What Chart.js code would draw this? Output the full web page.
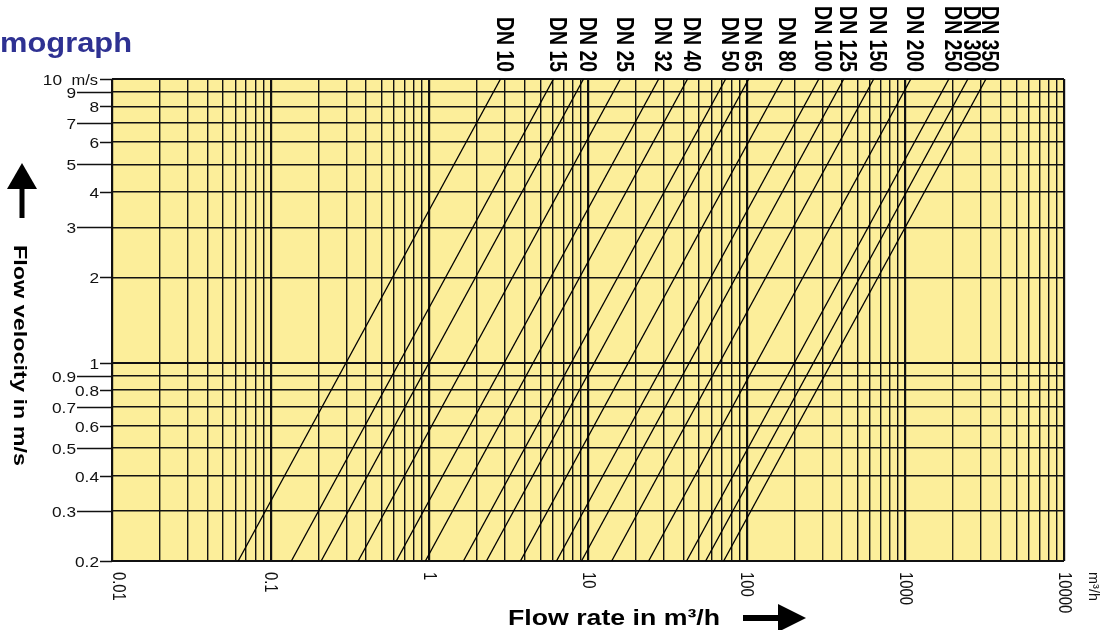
<!DOCTYPE html>
<html>
<head>
<meta charset="utf-8">
<script src="https://cdn.jsdelivr.net/npm/chart.js@4.4.1/dist/chart.umd.min.js"></script>
<style>
  html, body { margin: 0; padding: 0; background: #ffffff; }
  #wrap { width: 1104px; height: 630px; }
</style>
</head>
<body>
<div id="wrap"><canvas id="c" width="1104" height="630"></canvas></div>
<script>
// ---- data ----
const dnLabels = ['DN 10','DN 15','DN 20','DN 25','DN 32','DN 40','DN 50','DN 65','DN 80','DN 100','DN 125','DN 150','DN 200','DN 250','DN 300','DN 350'];
// flow rate (m³/h) where each DN line meets the top edge (10 m/s)
const flowAtTop = [2.81, 6.06, 9.37, 16.0, 27.9, 42.4, 73.7, 103, 169, 285, 409, 632, 1083, 1881, 2479, 3221];
// flow rate (m³/h) where each DN line meets the bottom edge (0.2 m/s)
const flowAtBottom = [0.0624, 0.135, 0.208, 0.356, 0.619, 0.944, 1.64, 2.29, 3.75, 6.33, 9.10, 14.1, 24.1, 41.8, 55.1, 71.6];
const velocityBottom = 0.2;
const velocityTop = 10;

const xDecades = [0.01, 0.1, 1, 10, 100, 1000];
const xMultipliers = [1, 2, 3, 4, 5, 6, 7, 8, 9];
const xMaxTick = 10000;
const xTickLabels = ['0.01', '0.1', '1', '10', '100', '1000', '10000'];
const xTickLabelValues = [0.01, 0.1, 1, 10, 100, 1000, 10000];

const yTickValues = [0.2, 0.3, 0.4, 0.5, 0.6, 0.7, 0.8, 0.9, 1, 2, 3, 4, 5, 6, 7, 8, 9, 10];
const yTickLabels = ['0.2', '0.3', '0.4', '0.5', '0.6', '0.7', '0.8', '0.9', '1', '2', '3', '4', '5', '6', '7', '8', '9', '10'];
const yLongTicks = [0.3, 0.5, 0.7, 0.9, 3, 5, 7, 9];

// ---- build grid tick list ----
const xGridValues = [];
xDecades.forEach(d => xMultipliers.forEach(m => xGridValues.push(parseFloat((d * m).toPrecision(6)))));
xGridValues.push(xMaxTick);

const isDecade = v => Math.abs(Math.log10(v) - Math.round(Math.log10(v))) < 1e-9;

const datasets = dnLabels.map((lab, i) => ({
  label: lab,
  data: [{ x: flowAtBottom[i], y: velocityBottom }, { x: flowAtTop[i], y: velocityTop }],
  showLine: true,
  borderColor: '#000',
  borderWidth: 1.3,
  pointRadius: 0,
  fill: false
}));

const FONT = '"Liberation Sans", Arial, Helvetica, sans-serif';

function txt(ctx, s, x, y, o) {
  ctx.save();
  ctx.translate(x, y);
  ctx.rotate(o.rot || 0);
  ctx.font = o.font;
  const w = ctx.measureText(s).width;
  const sx = o.len ? o.len / w : (o.sx || 1);
  ctx.scale(sx, o.perp || 1);
  ctx.textAlign = o.align || 'left';
  ctx.textBaseline = o.baseline || 'alphabetic';
  ctx.fillStyle = o.color || '#000';
  ctx.fillText(s, 0, 0);
  ctx.restore();
}

const decorPlugin = {
  id: 'decor',
  beforeDraw(chart) {
    const { ctx, chartArea: a } = chart;
    ctx.save();
    ctx.fillStyle = '#ffffff';
    ctx.fillRect(0, 0, chart.width, chart.height);
    ctx.fillStyle = '#FCEE9A';
    ctx.fillRect(a.left, a.top, a.right - a.left, a.bottom - a.top);
    ctx.restore();
  },
  afterDraw(chart) {
    const { ctx, chartArea: a } = chart;
    const xs = chart.scales.x, ys = chart.scales.y;
    ctx.save();
    // y ticks outside and labels
    ctx.strokeStyle = '#111';
    ctx.lineWidth = 1.5;
    const yFont = '15px ' + FONT;
    yTickValues.forEach((v, i) => {
      const py = Math.round(ys.getPixelForValue(v)) + 0.5;
      const long = yLongTicks.includes(v);
      const x0 = long ? 77 : 100;
      ctx.beginPath(); ctx.moveTo(x0, py); ctx.lineTo(a.left, py); ctx.stroke();
      if (v === 10) {
        txt(ctx, '10', 62, py + 1, { font: yFont, sx: 1.15, align: 'right', baseline: 'middle', color: '#111' });
        txt(ctx, 'm/s', 98, py + 1, { font: yFont, sx: 1.1, align: 'right', baseline: 'middle', color: '#111' });
      } else {
        txt(ctx, yTickLabels[i], long ? 76 : 99, py + 1, { font: yFont, sx: 1.15, align: 'right', baseline: 'middle', color: '#111' });
      }
    });
    // x tick labels (rotated, reading top to bottom)
    xTickLabels.forEach((lab, i) => {
      let px = xs.getPixelForValue(xTickLabelValues[i]);
      if (i === 0) px += 6;
      txt(ctx, lab, px, 572, { font: '19px ' + FONT, sx: 0.78, rot: Math.PI / 2, align: 'left', baseline: 'middle', color: '#111' });
    });
    txt(ctx, 'm³/h', 1093, 572, { font: '14px ' + FONT, len: 29, rot: Math.PI / 2, align: 'left', baseline: 'middle', color: '#111' });
    // DN labels
    dnLabels.forEach((lab, i) => {
      const px = xs.getPixelForValue(flowAtTop[i]) + 3;
      txt(ctx, lab, px, 72, { font: 'bold 24px ' + FONT, sx: 0.81, rot: Math.PI / 2, align: 'right', baseline: 'middle', color: '#000' });
    });
    // title
    txt(ctx, 'mograph', 0, 52, { font: 'bold 28px ' + FONT, len: 132, color: '#2E3192' });
    // x axis title + arrow
    txt(ctx, 'Flow rate in m³/h', 508, 625, { font: 'bold 22px ' + FONT, len: 212, color: '#000' });
    ctx.fillStyle = '#000';
    ctx.fillRect(743, 615, 38, 6);
    ctx.beginPath(); ctx.moveTo(778, 604); ctx.lineTo(806, 618); ctx.lineTo(778, 632); ctx.closePath(); ctx.fill();
    // y axis title + arrow
    txt(ctx, 'Flow velocity in m/s', 19, 245, { font: 'bold 19px ' + FONT, len: 221, rot: Math.PI / 2, align: 'left', baseline: 'middle', color: '#000' });
    ctx.fillRect(19.5, 186, 5, 32);
    ctx.beginPath(); ctx.moveTo(7, 189); ctx.lineTo(22, 163); ctx.lineTo(37, 189); ctx.closePath(); ctx.fill();
    ctx.restore();
  }
};

new Chart(document.getElementById('c'), {
  type: 'scatter',
  data: { datasets },
  plugins: [decorPlugin],
  options: {
    responsive: false,
    devicePixelRatio: 1,
    animation: false,
    layout: { padding: { left: 112, right: 40, top: 79, bottom: 69 } },
    plugins: { legend: { display: false }, tooltip: { enabled: false } },
    scales: {
      x: {
        type: 'logarithmic',
        min: 0.01, max: 10000,
        afterBuildTicks: s => { s.ticks = xGridValues.map(v => ({ value: v })); },
        afterFit: s => { s.height = 0; },
        ticks: { display: false },
        border: { display: false },
        grid: {
          drawTicks: false,
          color: '#111',
          lineWidth: c => (c.tick && isDecade(c.tick.value)) ? 2.2 : 1.4
        }
      },
      y: {
        type: 'logarithmic',
        min: 0.2, max: 10,
        afterBuildTicks: s => { s.ticks = yTickValues.map(v => ({ value: v })); },
        afterFit: s => { s.width = 0; },
        ticks: { display: false },
        border: { display: false },
        grid: {
          drawTicks: false,
          color: '#111',
          lineWidth: c => (c.tick && (c.tick.value === 1 || c.tick.value === 10 || c.tick.value === 0.2)) ? 2 : 1.5
        }
      }
    }
  }
});
</script>
</body>
</html>
